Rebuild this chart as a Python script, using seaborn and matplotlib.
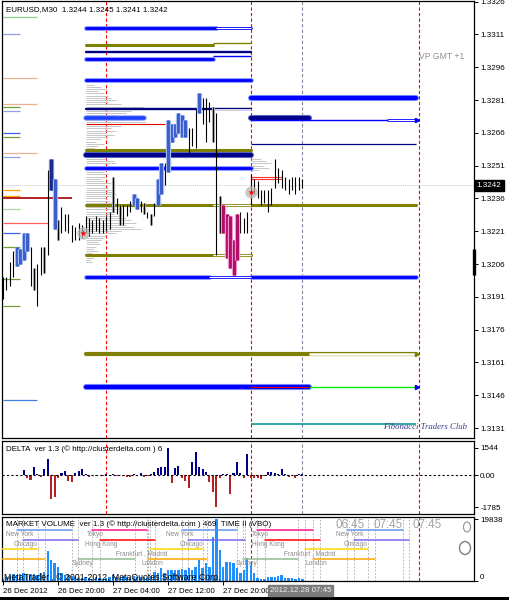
import numpy as np
import matplotlib
matplotlib.use("Agg")
import matplotlib.pyplot as plt
import matplotlib.transforms as mtransforms
from matplotlib.patches import Rectangle, Circle, Ellipse
import seaborn as sns

sns.set_theme(style="white")
plt.rcParams['font.family'] = ['Liberation Sans', 'DejaVu Sans']

# ---------------------------------------------------------------- data
# EURUSD M30 bars, oldest first (bar 0 = 26 Dec 12:00)
bar_high = [1.3200, 1.3200, 1.3207, 1.3212, 1.3214, 1.3213, 1.3220, 1.3220, 1.3214, 1.3204,
            1.3206, 1.3214, 1.3214, 1.3249, 1.3254, 1.3245, 1.3226, 1.3232, 1.3229, 1.3229,
            1.3224, 1.3223, 1.3225, 1.3224, 1.3228, 1.3227, 1.3226, 1.3228, 1.3227, 1.3226,
            1.3228, 1.3230, 1.3246, 1.3236, 1.3233, 1.3233, 1.3233, 1.3235, 1.3238, 1.3236,
            1.3235, 1.3234, 1.3230, 1.3229, 1.3234, 1.3245, 1.3252, 1.3252, 1.3272, 1.3270,
            1.3270, 1.3275, 1.3274, 1.3272, 1.3268, 1.3268, 1.3277, 1.3284, 1.3282, 1.3282,
            1.3280, 1.3278, 1.3275, 1.3237, 1.3233, 1.3229, 1.3228, 1.3217, 1.3229, 1.3230,
            1.3227, 1.3230, 1.3247, 1.3245, 1.3244, 1.3240, 1.3240, 1.3240, 1.3241, 1.3254,
            1.3250, 1.3249, 1.3246, 1.3245, 1.3246, 1.3246, 1.3246, 1.3245]
bar_low = [1.3190, 1.3194, 1.3196, 1.3200, 1.3205, 1.3206, 1.3208, 1.3212, 1.3196, 1.3194,
           1.3187, 1.3201, 1.3202, 1.3210, 1.3240, 1.3222, 1.3217, 1.3220, 1.3221, 1.3220,
           1.3216, 1.3217, 1.3217, 1.3218, 1.3220, 1.3219, 1.3220, 1.3221, 1.3220, 1.3220,
           1.3221, 1.3222, 1.3230, 1.3229, 1.3224, 1.3224, 1.3228, 1.3230, 1.3233, 1.3231,
           1.3230, 1.3229, 1.3227, 1.3224, 1.3228, 1.3233, 1.3238, 1.3242, 1.3248, 1.3262,
           1.3264, 1.3266, 1.3264, 1.3264, 1.3257, 1.3260, 1.3259, 1.3275, 1.3270, 1.3262,
           1.3271, 1.3262, 1.3210, 1.3220, 1.3220, 1.3209, 1.3204, 1.3201, 1.3208, 1.3220,
           1.3220, 1.3220, 1.3233, 1.3238, 1.3236, 1.3233, 1.3234, 1.3230, 1.3233, 1.3241,
           1.3243, 1.3241, 1.3240, 1.3238, 1.3240, 1.3238, 1.3240, 1.3241]
# body highlight per bar: k plain, g neutral, b buy, d strong buy, m sell
bar_flag = list("kkkkbbbbkgkkgkdbgkkkkkkkkkkkkkkkgkgkkkbbkgkgkbbkbbbbbbkkkbkkkgkgmmmmmkkkkkkkkkkkkkkkkk")

# cumulative delta per bar (NaN = no data)
delta = [np.nan] * 6 + [
    296, -130, -260, 444, 55, -74, 333, 906, -1332, -1221,
    -130, 148, 240, -315, -370, 148, 240, 350, 55, -74,
    10, -55, 37, -18, 74, 37, 92, -55, 18, -37,
    -92, -74, 55, -18, 111, -74, -55, 92, 166, 388,
    444, 481, 1544, -407, 388, 536, -130, -315, -721, 758,
    1313, 444, 350, 166, -351, -906, -1785, -166, 92, 55,
    -1054, 148, 721, 148, -130, 1165, -130, -130, -130, -222,
    -18, 166, 203, 148, 55, 350, 55, -74, 10, -166, 74, 74]

# tick volume per bar
volume = [800, 1200, 1500, 2400, 2000, 2200, 2600, 2000, 2400, 2200,
          1800, 2500, 3000, 9600, 6700, 5700, 4400, 2700, 1900, 1800,
          1500, 1400, 1100, 900, 1300, 1000, 800, 1200, 900, 700,
          1000, 1400, 1800, 1200, 1000, 1500, 1300, 1100, 1600, 1200,
          1400, 1200, 1000, 1500, 3000, 2500, 4100, 2500, 3500, 3500,
          3500, 3500, 3700, 3500, 4100, 3500, 4600, 6700, 4100, 5700,
          4600, 14200, 19838, 10000, 4600, 6200, 6200, 5700, 4100, 2500,
          3500, 7300, 5100, 2500, 900, 800, 700, 1300, 1400, 1200,
          1600, 1900, 1000, 900, 1100, 800, 900, 600]

# previous-session volume profile (1-pip rows from the top price down)
prof_top = 1.3288
prof_vol = [8, 15, 20, 12, 18, 22, 25, 30, 22, 35, 58, 50, 45, 40, 30, 38,
            55, 60, 48, 35, 25, 30, 20, 28, 22, 15, 10, 18, 12, 8,
            10, 12, 14, 10, 20, 28, 30, 25, 20, 25, 18, 22, 20,
            15, 18, 25, 20, 22, 25, 28, 30, 25, 20, 24, 28,
            30, 25, 35, 30, 28, 35, 40, 45, 50, 40, 48, 55, 35, 30,
            20, 18, 15, 12, 14, 10, 8, 12, 6, 5, 8, 4, 6]
cur_prof_top = 1.3254
cur_prof_vol = [10, 15, 20, 12, 18, 8]

# value-area / pivot levels: price, first bar, last bar, kind
lvl_price = [1.3314, 1.3306, 1.3303, 1.3300, 1.3290, 1.3277, 1.3273, 1.3270, 1.3258,
             1.3256, 1.3250, 1.3233, 1.3210, 1.3200, 1.3165, 1.3150,
             1.3282, 1.3273, 1.3272, 1.3261, 1.3233, 1.3200, 1.3133]
lvl_start = [24, 24, 24, 24, 24, 24, 24, 24, 24, 24, 24, 24, 24, 24, 24, 24,
             72, 72, 72, 72, 72, 72, 72]
lvl_end = [62, 61, 72, 61, 72, 61, 41, 47, 72, 72, 72, 61, 61, 60, 89, 89,
           120, 89, 112, 120, 120, 120, 120]
lvl_kind = ['blue', 'olive', 'navy', 'blue', 'blue', 'navy', 'mark', 'red', 'olive',
            'navy_thick', 'blue', 'olive', 'olive', 'blue', 'olive_thick', 'blue_thick',
            'blue_thick', 'navy_thick', 'blue_thin', 'navy_thin', 'olive', 'blue', 'teal']

# untested extensions of levels: price, first bar, last bar, kind, hollow
ext_price = [1.3314, 1.3307, 1.3301, 1.3277, 1.3233, 1.3210, 1.3200, 1.3165, 1.3150, 1.3272]
ext_start = [62, 61, 61, 61, 61, 61, 60, 89, 89, 112]
ext_end = [72, 72, 72, 72, 72, 72, 72, 120, 120, 120]
ext_kind = ['blue', 'olive_thin', 'blue_thin', 'navy', 'olive', 'olive', 'blue',
            'olive_thick', 'green', 'blue']
ext_hollow = [True, False, False, True, True, True, True, True, False, True]

# older levels drawn at the left edge: price, last bar, colour
old_price = [1.3319, 1.3311, 1.3291, 1.3279, 1.3278, 1.3276, 1.3266, 1.3264, 1.3257,
             1.3255, 1.3240, 1.3237, 1.3236, 1.3231, 1.3225, 1.3220, 1.3214, 1.3199,
             1.3187, 1.3144]
old_end = [10, 5, 10, 10, 5, 5, 5, 5, 10, 5, 5, 5, 20, 5, 13, 5, 5, 5, 5, 10]
old_color = ['#8fd08f', '#8fa0e0', '#f0b090', '#f0b090', '#70a030', '#8fa0e0',
             '#4060e0', '#70a030', '#f0b090', '#8fa0e0', '#ffa500', '#ffa500',
             '#b22222', '#a8d8a0', '#ff6060', '#4060e0', '#70a030', '#70a030',
             '#70a030', '#4080e0']

# trading sessions: name, start bar, end bar, row, colour, label bar
ses_name = ['New York', 'Tokyo', 'New York', 'Tokyo', 'New York',
            'Chicago', 'Hong Kong', 'Chicago', 'Hong Kong', 'Chicago',
            '', 'Frankfurt , Madrid', 'Frankfurt , Madrid',
            '', 'Sydney', 'London', 'Sydney', 'London']
ses_start = [4.1, 25.9, 52.0, 73.8, 100.0, 5.8, 28.2, 53.8, 76.2, 102.0,
             -1.0, 42.7, 87.8, -1.0, 21.8, 42.2, 69.8, 90.1]
ses_end = [20.1, 41.9, 68.0, 90.1, 116.3, 21.8, 44.2, 70.3, 92.2, 118.0,
           10.2, 58.1, 106.1, 12.2, 38.4, 59.3, 85.8, 108.1]
ses_row = [0, 0, 0, 0, 0, 1, 1, 1, 1, 1, 2, 2, 2, 3, 3, 3, 3, 3]
ses_color = ['#6495ed', '#ff1493', '#6495ed', '#ff1493', '#6495ed',
             '#7b68ee', '#ff0000', '#7b68ee', '#ff0000', '#7b68ee',
             '#ffd700', '#ffd700', '#ffd700',
             '#ffa500', '#8fbc8f', '#ffa500', '#8fbc8f', '#ffa500']
ses_label_at = [4.9, 26.7, 51.5, 74.7, 100.9, 6.7, 28.5, 54.7, 77.0, 102.6,
                0, 40.4, 89.0, 0, 23.0, 43.3, 70.9, 91.0]

price_ticks = [1.3326, 1.3311, 1.3296, 1.3281, 1.3266, 1.3251, 1.3236, 1.3221,
               1.3206, 1.3191, 1.3176, 1.3161, 1.3146, 1.3131]
time_ticks = [0, 16, 32, 48, 64]
time_labels = ['26 Dec 2012', '26 Dec 20:00', '27 Dec 04:00', '27 Dec 12:00', '27 Dec 20:00']
day_breaks = [30, 72, 121]
now_bar = 87
last_price = 1.3242
delta_max, delta_min = 1544, -1785
vol_max = 19838

# ---------------------------------------------------------------- layout
W, H = 510, 600
fig = plt.figure(figsize=(W / 100, H / 100), dpi=100)
fig.patch.set_facecolor('white')


def box(l, t, r, b):
    return [l / W, 1 - b / H, (r - l) / W, (b - t) / H]


def ftext(x, y, s, **kw):
    kw.setdefault('va', 'center')
    kw.setdefault('ha', 'left')
    return fig.text(x / W, 1 - y / H, s, **kw)


ax = fig.add_axes(box(2, 1, 474, 438))
axd = fig.add_axes(box(2, 441, 474, 514))
axv = fig.add_axes(box(2, 517, 474, 581))

X0, X1 = -0.29, 136.9
FS = 5.8

idx = np.arange(len(bar_high))

# ---------------------------------------------------------------- volume (seaborn)
sns.barplot(x=idx, y=volume, native_scale=True, color='#1e90ff', saturation=1,
            width=0.7, errorbar=None, linewidth=0, ax=axv, zorder=2)

for a in (ax, axd, axv):
    a.set_facecolor('white')
    a.set_xlim(X0, X1)
    a.set_xlabel('')
    a.set_ylabel('')
    for s in a.spines.values():
        s.set_visible(True)
        s.set_color('black')
        s.set_linewidth(0.9)
    a.yaxis.tick_right()
    a.tick_params(axis='y', which='both', direction='out', length=3, width=0.7,
                  pad=1.5, labelsize=FS, colors='black', left=False, right=True)
    a.tick_params(axis='x', bottom=False, labelbottom=False)
    a.grid(False)

dash = (0, (3, 2))

# ---------------------------------------------------------------- price panel
ax.set_ylim(1.312646, 1.33263)
ax.set_yticks(price_ticks)
ax.set_yticklabels([f'{p:.4f}' for p in price_ticks])

for b in day_breaks:
    ax.axvline(b, color='red', lw=0.8, ls=dash, zorder=1)
ax.axvline(now_bar, color='#8888a0', lw=0.8, ls=dash, zorder=1)
ax.axhline(last_price, color='#c8c8c8', lw=0.7, ls=(0, (1, 1)), zorder=1)

# volume profiles
prof_prices = prof_top - 0.0001 * np.arange(len(prof_vol))
ax.hlines(prof_prices, 24, 24 + np.array(prof_vol) / 3.44, color='#c6c6c6', lw=0.7, zorder=1)
cur_prices = cur_prof_top - 0.0001 * np.arange(len(cur_prof_vol))
ax.hlines(cur_prices, 72, 72 + np.array(cur_prof_vol) / 3.44, color='#c6c6c6', lw=0.7, zorder=1)

# older levels
for p, e, c in zip(old_price, old_end, old_color):
    ax.plot([0, e], [p, p], color=c, lw=1.4 if c == '#b22222' else 0.9,
            solid_capstyle='butt', zorder=2)

styles = {
    'blue': ('#0000ff', 2.0, '#8090ff'),
    'blue_thick': ('#0000ff', 3.0, '#8090ff'),
    'blue_thin': ('#0000ff', 1.0, None),
    'navy': ('#000080', 1.7, None),
    'navy_thick': ('#00008b', 3.0, '#6070c0'),
    'navy_thin': ('#000080', 0.9, None),
    'olive': ('#808000', 2.2, None),
    'olive_thick': ('#808000', 3.0, None),
    'olive_thin': ('#808000', 1.0, None),
    'red': ('#e00000', 0.8, None),
    'teal': ('#008b8b', 1.1, None),
    'green': ('#00ee00', 1.0, None),
    'mark': ('#2040ff', 2.6, '#90a8ff'),
}


def level(p, s, e, kind, hollow=False):
    c, w, halo = styles[kind]
    if halo and not hollow:
        ax.plot([s, e], [p, p], color=halo, lw=w + 1.4, solid_capstyle='round', zorder=3)
    ax.plot([s, e], [p, p], color=c, lw=w, solid_capstyle='round' if w > 1.5 else 'butt', zorder=4)
    if hollow:
        ax.plot([s, e], [p, p], color='white', lw=max(w - 1.2, 0.6), solid_capstyle='butt', zorder=5)


for p, s, e, k in zip(lvl_price, lvl_start, lvl_end, lvl_kind):
    level(p, s, e, k)
for p, s, e, k, hl in zip(ext_price, ext_start, ext_end, ext_kind, ext_hollow):
    level(p, s, e, k, hl)
# inner red mark on the lower level in the current session
ax.plot([72, 89], [1.3150, 1.3150], color='#e00000', lw=0.8, zorder=6)
for p, c in [(1.3165, '#808000'), (1.3150, '#0000ff'), (1.3272, '#0000ff')]:
    ax.plot(120.3, p, marker='>', ms=3, color=c, zorder=6)
# session high markers
ax.plot([72, 81], [1.3246, 1.3246], color='#ff3030', lw=0.8, zorder=6)
ax.plot([72, 81], [1.3245, 1.3245], color='#ff3030', lw=0.8, zorder=6)

# bars
body_style = {'b': ('#3a5fcd', '#a8bdf5'), 'd': ('#1c2a8c', '#8090d0'),
              'm': ('#b0106a', '#f59ad0'), 'g': ('#b0b0b0', None)}
ax.vlines(idx, bar_low, bar_high, color='black', lw=0.8, zorder=7)
for i, (h, l, f) in enumerate(zip(bar_high, bar_low, bar_flag)):
    if f in body_style:
        body, halo = body_style[f]
        z = 6 if f == 'g' else 8
        if halo:
            ax.plot([i, i], [l, h], color=halo, lw=3.8, solid_capstyle='butt', zorder=z)
        ax.plot([i, i], [l, h], color=body, lw=2.2, solid_capstyle='butt', zorder=z)

# session-open markers
ax.scatter([23.3, 72], [1.3220, 1.3239], s=80, color='#b8b8b8', alpha=0.75, lw=0, zorder=9)
ax.scatter([23.3, 72], [1.3220, 1.3239], s=22, color='red', marker='*', lw=0, zorder=10)

yx = mtransforms.blended_transform_factory(ax.transAxes, ax.transData)
ax.text(1.006, last_price, f'{last_price:.4f}', transform=yx, color='white', fontsize=FS,
        va='center', ha='left', zorder=20, clip_on=False,
        bbox=dict(boxstyle='square,pad=0.25', fc='black', ec='black'))
ax.plot([1.0, 1.0], [1.3201, 1.3213], transform=yx, color='black', lw=2.4,
        solid_capstyle='butt', clip_on=False, zorder=20)

ax.text(121, 1.3301, 'VP GMT +1', color='#909090', fontsize=6.2, va='center', ha='left', zorder=10)
ax.text(122.7, 1.31315, 'Fibonacci Traders Club', color='#3c3c8c', fontsize=6.3,
        family='Liberation Serif', style='italic', va='center', ha='center', zorder=10)

# ---------------------------------------------------------------- delta panel
axd.set_ylim(-2156, 1910)
axd.set_yticks([delta_max, 0, delta_min])
axd.set_yticklabels([str(delta_max), '0.00', str(delta_min)])
for b in day_breaks:
    axd.axvline(b, color='red', lw=0.8, ls=dash, zorder=1)
axd.axvline(now_bar, color='#8888a0', lw=0.8, ls=dash, zorder=1)
dv = np.array(delta, dtype=float)
ok = ~np.isnan(dv)
axd.bar(idx[ok], dv[ok], width=0.6, color=np.where(dv[ok] >= 0, '#00008b', '#b22222'),
        linewidth=0, zorder=3)
axd.axhline(0, color='black', lw=0.8, ls=(0, (2, 2)), zorder=4)

# ---------------------------------------------------------------- volume panel
VTOP = 20577
axv.set_ylim(0, VTOP)
axv.set_yticks([vol_max, 0])
axv.set_yticklabels([str(vol_max), '0'])
axv.get_yticklabels()[1].set_va('bottom')
for b in day_breaks[1:]:
    axv.axvline(b, color='red', lw=0.8, ls=dash, zorder=1)
ses_marks = sorted(set([round(v, 1) for v in ses_start + ses_end if v > 0]))
for b in ses_marks:
    axv.axvline(b, color='#a8a8a8', lw=0.6, ls=(0, (2, 2)), zorder=1)

xy = mtransforms.blended_transform_factory(axv.transData, axv.transAxes)
row_line = [(581 - y) / 64 for y in (530, 540, 549, 559)]
row_text = [(581 - y) / 64 for y in (534.5, 544.5, 553.5, 563.5)]
for n, s, e, r, c, la in zip(ses_name, ses_start, ses_end, ses_row, ses_color, ses_label_at):
    axv.plot([s, e], [row_line[r]] * 2, color=c, lw=1.1, transform=xy, zorder=5, clip_on=True)
    if n:
        axv.text(la, row_text[r], n, transform=xy, color='#8a8a8a', fontsize=4.7,
                 ha='center', va='center', zorder=6)

axv.set_xticks(time_ticks)
axv.set_xticklabels(time_labels)
axv.tick_params(axis='x', bottom=True, labelbottom=True, direction='out', length=3,
                width=0.7, labelsize=5.7, pad=2, colors='black')
for lab in axv.get_xticklabels():
    lab.set_ha('left')

# ---------------------------------------------------------------- captions
ftext(6, 9.5, 'EURUSD,M30  1.3244 1.3245 1.3241 1.3242', fontsize=FS, color='black')
ftext(6, 449, 'DELTA  ver 1.3 (© http://clusterdelta.com ) 6', fontsize=FS, color='black')
ftext(6, 524.5, 'MARKET VOLUME  ver 1.3 (© http://clusterdelta.com ) 469  TIME II (VBO)',
      fontsize=FS, color='black')
for x, s in zip((336, 374, 413), ('06:45', '07:45', '07:45')):
    ftext(x, 525, s, fontsize=8.4, color='#a4a4a4')
ftext(4, 578, 'MetaTrader , © 2001-2012, MetaQuotes Software Corp.', fontsize=6.3,
      color='black', zorder=10)
ftext(270, 590.5, '2012.12.28 07:45', fontsize=5.7, color='#f0f0f0', zorder=12,
      bbox=dict(boxstyle='square,pad=0.25', fc='#7c7c7c', ec='#7c7c7c'))

fig.patches.append(Circle((465 / W, 1 - 548 / H), 5.5 / W, transform=fig.transFigure,
                          fill=False, ec='#808080', lw=1.0))
fig.patches.append(Ellipse((467 / W, 1 - 527 / H), 7 / W, 10 / H, transform=fig.transFigure,
                           fill=False, ec='#909090', lw=0.8))
fig.patches.append(Rectangle((0, 0), 1, 3 / H, transform=fig.transFigure,
                             fc='black', ec='none'))

fig.savefig('out.png', dpi=100, facecolor='white')
